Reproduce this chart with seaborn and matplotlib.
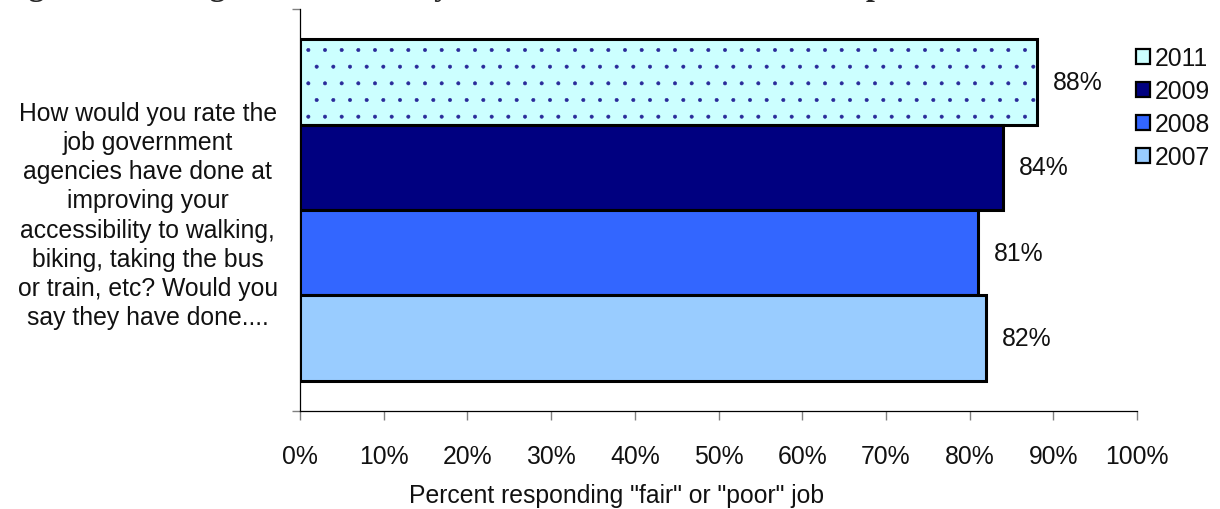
import matplotlib
matplotlib.use("Agg")
import matplotlib.pyplot as plt
from matplotlib.patches import Rectangle, Patch
from matplotlib.ticker import FuncFormatter
import seaborn as sns
import pandas as pd

# ---- data ----
question = ("How would you rate the\njob government\nagencies have done at\nimproving your\n"
            "accessibility to walking,\nbiking, taking the bus\nor train, etc? Would you\n"
            "say they have done....")
years = ["2011", "2009", "2008", "2007"]
values = [88, 84, 81, 82]
colors = ["#CCFFFF", "#000080", "#3366FF", "#99CCFF"]
x_ticks = [0, 10, 20, 30, 40, 50, 60, 70, 80, 90, 100]
title = "Figure 4: Ratings of Accessibility to Alternative Modes of Transportation"
x_label = 'Percent responding "fair" or "poor" job'

sns.set_style("white")
plt.rcParams["font.family"] = ["Liberation Sans", "DejaVu Sans"]
plt.rcParams["hatch.linewidth"] = 0.4
FS = 17.8

df = pd.DataFrame({"question": [question] * len(years), "year": years, "value": values})
palette = dict(zip(years, colors))

fig = plt.figure(figsize=(12.2, 5.1), dpi=100)
ax = fig.add_axes([300 / 1220, 98 / 510, 837 / 1220, 402 / 510])

sns.barplot(data=df, y="question", x="value", hue="year", hue_order=years,
            palette=palette, orient="h", width=0.85, dodge=True, saturation=1,
            edgecolor="black", linewidth=2.2, legend=False, ax=ax)

# dotted pattern on the 2011 bar
for p in ax.containers[0]:
    p.set_edgecolor("#2a2a99")
    p.set_linewidth(0)
    p.set_hatch(".")
    ax.add_patch(Rectangle(p.get_xy(), p.get_width(), p.get_height(), fill=False,
                           edgecolor="black", linewidth=2.2, zorder=p.get_zorder() + 0.1))

for cont, v in zip(ax.containers, values):
    ax.bar_label(cont, labels=[f"{v:.0f}%"], padding=11.5, fontsize=FS, color="#111111")

ax.set_xlim(0, 100)
ax.set_xticks(x_ticks)
ax.xaxis.set_major_formatter(FuncFormatter(lambda x, _: f"{x:.0f}%"))
ax.tick_params(axis="x", direction="out", length=6.5, width=1, color="#808080",
               labelsize=FS, pad=17.5, bottom=True, labelcolor="#111111")
ax.set_yticks([-0.5, 0.5], minor=True)
ax.tick_params(axis="y", which="minor", direction="out", length=6, width=1,
               color="#808080", left=True)
ax.tick_params(axis="y", which="major", length=0, pad=16, labelsize=FS, labelcolor="#111111")
for t in ax.get_yticklabels():
    t.set_multialignment("center")
    t.set_linespacing(1.27)

ax.set_ylabel("")
ax.set_xlabel(x_label, fontsize=FS, color="#111111")
ax.xaxis.set_label_coords((617 - 300) / 837, -0.18)

for s in ["top", "right"]:
    ax.spines[s].set_visible(False)
for s in ["left", "bottom"]:
    ax.spines[s].set_color("black")
    ax.spines[s].set_linewidth(0.9)

handles = [Patch(facecolor=c, edgecolor="black", linewidth=1.6, label=y)
           for y, c in zip(years, colors)]
fig.legend(handles=handles, loc="upper left", bbox_to_anchor=(1136 / 1220, 1 - 47 / 510),
           frameon=False, fontsize=FS, handlelength=0.56, handleheight=0.56,
           handletextpad=0.2, labelspacing=0.37, borderpad=0, borderaxespad=0,
           labelcolor="#111111")

fig.text(0.0, 1.0 + 5 / 510, title, family="Liberation Serif", weight="bold", fontsize=23,
         ha="left", va="baseline")

fig.savefig("out.png", dpi=100)
